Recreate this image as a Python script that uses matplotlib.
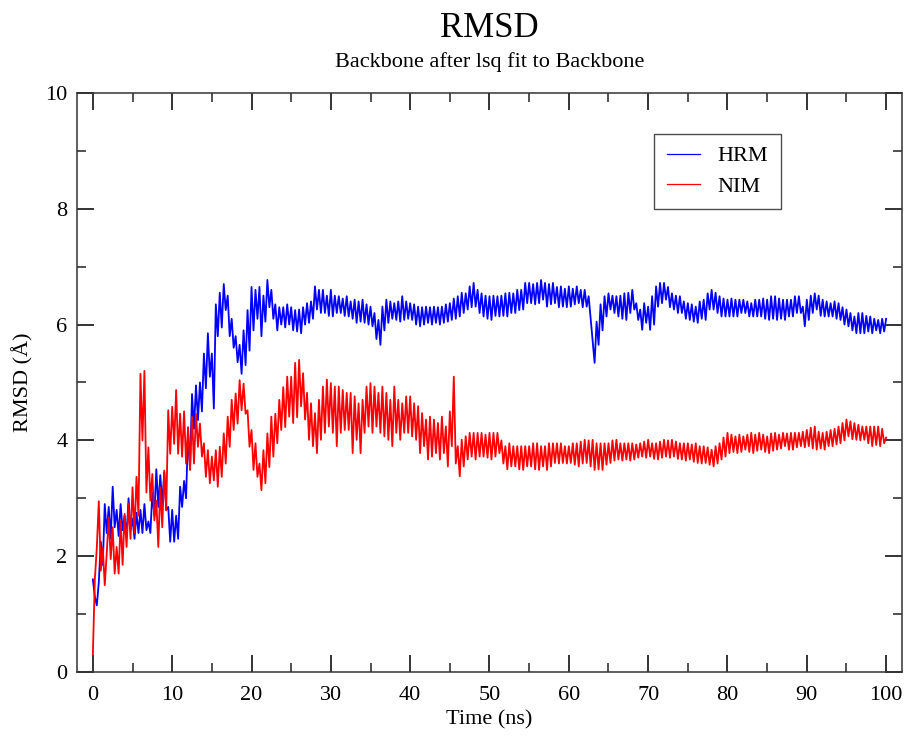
import numpy as np
import matplotlib
matplotlib.use("Agg")
import matplotlib.pyplot as plt
from matplotlib.ticker import MultipleLocator

plt.rcParams['font.family'] = ['Liberation Serif', 'DejaVu Serif']

# time axis, one reading every 0.25 ns
time_ns = np.arange(0, 100.001, 0.25)

# HRM backbone RMSD (Angstrom), 4 values per ns
hrm = [
    1.6, 1.3, 1.15, 1.55,  2.25, 1.85, 2.9, 2.4,  2.85, 2.3, 3.2, 2.5,  2.8, 2.35, 2.9, 2.45,  2.7, 2.35, 3.0, 2.45,
    2.65, 2.3, 2.75, 2.4,  2.8, 2.4, 2.9, 2.45,  2.6, 2.4, 3.1, 2.7,  3.5, 2.85, 3.4, 2.9,  3.45, 2.8, 2.85, 2.25,
    2.8, 2.25, 2.7, 2.3,  3.2, 2.85, 3.3, 3.0,  4.15, 3.5, 4.8, 4.2,  4.95, 4.35, 5.0, 4.5,  5.5, 4.9, 5.85, 5.1,
    5.5, 4.55, 6.35, 5.8,  6.55, 5.95, 6.7, 6.25,  6.5, 5.8, 6.1, 5.6,  5.8, 5.35, 5.65, 5.15,  5.9, 5.3, 6.25, 5.55,
    6.65, 5.9, 6.6, 6.1,  6.65, 5.8, 6.5, 6.05,  6.77, 6.3, 6.6, 6.1,  6.35, 5.9, 6.3, 6.0,  6.3, 5.95, 6.35, 6.0,
    6.3, 5.9, 6.25, 5.88,  6.26, 5.85, 6.3, 6.0,  6.37, 6.03, 6.4, 6.1,  6.66, 6.26, 6.6, 6.2,  6.6, 6.2, 6.5, 6.15,
    6.6, 6.14, 6.5, 6.2,  6.49, 6.2, 6.45, 6.15,  6.49, 6.14, 6.4, 6.1,  6.43, 6.03, 6.4, 6.05,  6.43, 6.03, 6.35, 6.0,
    6.31, 5.97, 6.2, 5.75,  6.08, 5.65, 6.31, 5.9,  6.43, 6.03, 6.4, 6.1,  6.37, 6.08, 6.4, 6.05,  6.49, 6.08, 6.4, 6.1,
    6.37, 6.08, 6.35, 6.0,  6.31, 5.97, 6.3, 6.0,  6.31, 6.03, 6.3, 6.0,  6.31, 6.03, 6.3, 6.0,  6.31, 6.03, 6.35, 6.05,
    6.37, 6.08, 6.45, 6.1,  6.49, 6.14, 6.55, 6.2,  6.54, 6.26, 6.66, 6.3,  6.72, 6.31, 6.6, 6.2,  6.54, 6.14, 6.5, 6.1,
    6.49, 6.08, 6.5, 6.15,  6.49, 6.14, 6.5, 6.15,  6.54, 6.14, 6.55, 6.2,  6.54, 6.2, 6.6, 6.25,  6.6, 6.26, 6.72, 6.37,
    6.72, 6.37, 6.7, 6.35,  6.72, 6.37, 6.77, 6.43,  6.72, 6.31, 6.7, 6.35,  6.72, 6.37, 6.65, 6.3,  6.66, 6.31, 6.62, 6.3,
    6.66, 6.31, 6.62, 6.35,  6.66, 6.37, 6.6, 6.3,  6.6, 6.31, 6.49, 6.1,  5.7, 5.34, 6.05, 5.65,  6.35, 5.9, 6.49, 6.14,
    6.54, 6.26, 6.5, 6.2,  6.49, 6.14, 6.5, 6.1,  6.54, 6.08, 6.55, 6.2,  6.6, 6.26, 6.37, 6.08,  6.26, 5.91, 6.37, 6.03,
    6.31, 5.91, 6.49, 6.0,  6.66, 6.31, 6.72, 6.37,  6.72, 6.43, 6.65, 6.3,  6.54, 6.26, 6.5, 6.2,  6.49, 6.2, 6.4, 6.1,
    6.37, 6.08, 6.35, 6.05,  6.31, 6.03, 6.4, 6.1,  6.43, 6.08, 6.54, 6.26,  6.6, 6.26, 6.55, 6.2,  6.49, 6.14, 6.45, 6.14,
    6.43, 6.14, 6.45, 6.14,  6.43, 6.14, 6.43, 6.2,  6.43, 6.2, 6.4, 6.14,  6.37, 6.14, 6.43, 6.14,  6.43, 6.14, 6.45, 6.1,
    6.43, 6.08, 6.49, 6.1,  6.49, 6.08, 6.45, 6.1,  6.43, 6.08, 6.43, 6.14,  6.43, 6.14, 6.49, 6.2,  6.49, 6.2, 6.31, 5.97,
    6.43, 6.08, 6.5, 6.2,  6.54, 6.26, 6.5, 6.15,  6.43, 6.14, 6.4, 6.14,  6.37, 6.14, 6.4, 6.1,  6.37, 6.08, 6.3, 6.0,
    6.26, 5.97, 6.2, 5.9,  6.14, 5.85, 6.2, 5.85,  6.2, 5.85, 6.15, 5.88,  6.14, 5.85, 6.1, 5.9,  6.08, 5.85, 6.1, 5.88,
    6.1,
]

# NIM backbone RMSD (Angstrom), same sampling
nim = [
    0.3, 1.6, 2.15, 2.95,  1.75, 2.15, 1.5, 2.05,  2.67, 1.95, 2.5, 1.7,  2.16, 1.7, 2.62, 1.85,  2.73, 2.16, 2.91, 2.3,
    3.19, 2.4, 3.37, 2.7,  5.15, 4.0, 5.2, 3.1,  3.88, 2.96, 3.42, 2.62,  2.96, 2.16, 3.19, 2.5,  3.48, 2.79, 4.52, 3.77,
    4.58, 3.94, 4.87, 3.77,  4.46, 3.72, 4.5, 3.6,  4.23, 3.49, 4.41, 3.6,  4.46, 3.89, 4.29, 3.72,  3.95, 3.37, 3.83, 3.26,
    3.72, 3.31, 3.83, 3.2,  3.89, 3.37, 4.12, 3.6,  4.41, 3.89, 4.7, 4.18,  4.81, 4.29, 5.04, 4.52,  4.98, 4.46, 4.52, 3.89,
    4.18, 3.49, 3.95, 3.37,  3.6, 3.14, 3.83, 3.26,  4.12, 3.54, 4.41, 3.72,  4.46, 3.95, 4.7, 4.18,  4.92, 4.23, 5.1, 4.41,
    5.1, 4.3, 5.34, 4.4,  5.39, 4.59, 5.16, 4.36,  4.82, 4.01, 4.64, 3.9,  4.47, 3.78, 4.7, 4.01,  4.93, 4.13, 5.05, 4.24,
    4.99, 4.13, 4.93, 3.9,  4.93, 4.13, 4.87, 4.18,  4.82, 4.18, 4.82, 3.78,  4.76, 4.01, 4.64, 3.78,  4.7, 4.13, 4.93, 4.24,
    4.99, 4.13, 4.93, 4.24,  4.82, 4.13, 4.93, 4.07,  4.82, 4.01, 4.7, 3.9,  4.93, 4.13, 4.7, 4.01,  4.64, 4.13, 4.76, 4.13,
    4.76, 4.07, 4.64, 4.01,  4.59, 3.78, 4.47, 3.9,  4.36, 3.67, 4.41, 3.72,  4.36, 3.78, 4.3, 3.67,  4.41, 3.78, 4.24, 3.55,
    4.5, 3.9, 5.1, 3.6,  3.9, 3.38, 4.01, 3.55,  4.07, 3.67, 4.13, 3.72,  4.13, 3.67, 4.13, 3.72,  4.13, 3.72, 4.1, 3.7,
    4.13, 3.67, 4.13, 3.72,  4.13, 3.78, 4.0, 3.6,  3.9, 3.5, 3.95, 3.55,  3.9, 3.55, 3.9, 3.5,  3.9, 3.49, 3.9, 3.55,
    3.9, 3.55, 3.95, 3.5,  3.95, 3.49, 3.9, 3.55,  3.9, 3.49, 3.95, 3.55,  3.95, 3.61, 3.95, 3.6,  3.95, 3.61, 3.9, 3.6,
    3.9, 3.61, 3.95, 3.58,  3.95, 3.55, 3.98, 3.6,  4.01, 3.61, 4.0, 3.55,  4.01, 3.49, 3.95, 3.5,  3.95, 3.49, 3.95, 3.58,
    3.95, 3.61, 4.0, 3.65,  4.01, 3.67, 3.95, 3.65,  3.95, 3.67, 3.95, 3.65,  3.95, 3.67, 3.93, 3.7,  3.95, 3.72, 3.98, 3.7,
    4.01, 3.72, 3.95, 3.68,  3.95, 3.67, 3.98, 3.7,  4.01, 3.72, 4.0, 3.7,  4.01, 3.72, 3.98, 3.68,  3.95, 3.67, 3.95, 3.65,
    3.95, 3.67, 3.93, 3.63,  3.95, 3.61, 3.9, 3.6,  3.9, 3.61, 3.88, 3.58,  3.84, 3.55, 3.9, 3.6,  3.95, 3.67, 4.05, 3.72,
    4.13, 3.78, 4.1, 3.8,  4.07, 3.78, 4.1, 3.8,  4.07, 3.84, 4.1, 3.8,  4.13, 3.78, 4.1, 3.82,  4.13, 3.84, 4.1, 3.8,
    4.07, 3.78, 4.12, 3.82,  4.13, 3.84, 4.1, 3.86,  4.13, 3.9, 4.12, 3.84,  4.13, 3.84, 4.13, 3.88,  4.13, 3.9, 4.15, 3.88,
    4.18, 3.9, 4.22, 3.86,  4.24, 3.84, 4.15, 3.86,  4.13, 3.84, 4.15, 3.9,  4.18, 3.9, 4.2, 3.93,  4.24, 3.95, 4.3, 4.0,
    4.36, 4.07, 4.33, 4.02,  4.3, 4.01, 4.27, 4.0,  4.24, 4.01, 4.24, 3.95,  4.24, 3.9, 4.24, 3.92,  4.24, 3.9, 4.2, 3.95,
    4.05,
]

series_names = ["HRM", "NIM"]
series_colors = ["#0000ff", "#ff0000"]

fig = plt.figure(figsize=(9.09, 7.45), dpi=100)
ax = fig.add_axes([0.0847, 0.098, 0.9076, 0.7772])

for vals, name, col in zip([hrm, nim], series_names, series_colors):
    ax.plot(time_ns, vals, color=col, lw=1.3, label=name)

ax.set_xlim(-2, 102)
ax.set_ylim(0, 10)
ax.xaxis.set_major_locator(MultipleLocator(10))
ax.xaxis.set_minor_locator(MultipleLocator(5))
ax.yaxis.set_major_locator(MultipleLocator(2))
ax.yaxis.set_minor_locator(MultipleLocator(1))

ax.tick_params(which='both', direction='in', top=True, right=True,
               color='#333333', labelsize=16)
ax.tick_params(which='major', length=12.5, width=1.4)
ax.tick_params(which='minor', length=6.5, width=1.2)
ax.tick_params(axis='x', pad=10)
ax.tick_params(axis='y', pad=7)
for sp in ax.spines.values():
    sp.set_linewidth(1.1)
    sp.set_color('#333333')

ax.set_xlabel("Time (ns)", fontsize=16, labelpad=4)
ax.set_ylabel("RMSD (Å)", fontsize=16, labelpad=8)

fig.text(0.5385, 0.962, "RMSD", fontsize=25, ha='center', va='center')
fig.text(0.5385, 0.917, "Backbone after lsq fit to Backbone", fontsize=16,
         ha='center', va='center')

leg = ax.legend(loc='upper left', bbox_to_anchor=(0.70, 0.93), borderaxespad=0,
                fontsize=16, frameon=True, fancybox=False, edgecolor='#222222',
                handlelength=1.5, borderpad=0.55, labelspacing=0.45,
                handletextpad=0.8)
leg.get_frame().set_linewidth(1.0)
for line in leg.get_lines():
    line.set_linewidth(0.9)

fig.savefig("out.png", dpi=100)
